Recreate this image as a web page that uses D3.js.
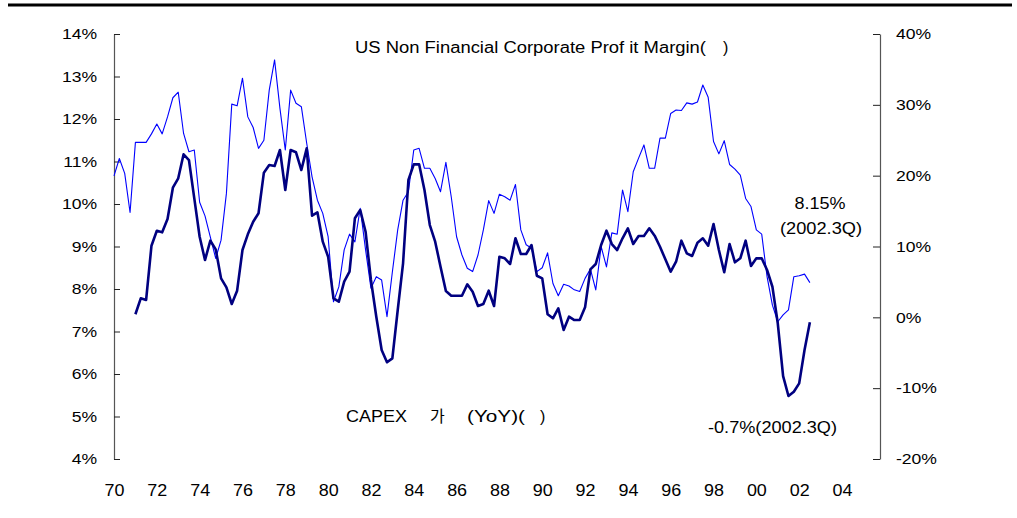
<!DOCTYPE html>
<html>
<head>
<meta charset="utf-8">
<script src="https://cdnjs.cloudflare.com/ajax/libs/d3/7.8.5/d3.min.js"></script>
<style>
  body { margin: 0; background: #fff; }
  text { font-family: "Liberation Sans", Arial, sans-serif; fill: #000; }
  .kr { font-family: "Noto Sans CJK KR", sans-serif; }
</style>
</head>
<body>
<div id="chart"></div>
<script>
// quarterly series
var pmStart = 1970;     // profit margin starts 1970 Q1
var capexStart = 1971;  // capex YoY starts 1971 Q1

// US non financial corporate profit margin (%), left axis
var pmValues = [
  10.66, 11.07, 10.72, 9.80,   // 1970
  11.45, 11.45, 11.45, 11.65,  // 1971
  11.88, 11.65, 12.05, 12.50,  // 1972
  12.63, 11.66, 11.23, 11.27,  // 1973
  10.04, 9.72, 9.22, 8.72,     // 1974
  9.15, 10.25, 12.35, 12.31,   // 1975
  12.96, 12.05, 11.80, 11.31,  // 1976
  11.50, 12.68, 13.39, 12.25,  // 1977
  11.27, 12.68, 12.37, 12.29,  // 1978
  11.43, 10.64, 10.09, 9.78,   // 1979
  9.23, 7.70, 8.05, 8.92,      // 1980
  9.29, 9.11, 9.90, 8.92,      // 1981
  8.02, 8.29, 8.21, 7.35,      // 1982
  8.40, 9.39, 10.09, 10.29,    // 1983
  11.27, 11.31, 10.84, 10.84,  // 1984
  10.60, 10.29, 10.98, 10.17,  // 1985
  9.23, 8.80, 8.49, 8.41,      // 1986
  8.80, 9.39, 10.08, 9.78,     // 1987
  10.23, 10.17, 10.09, 10.46,  // 1988
  9.39, 9.04, 8.96, 8.41,      // 1989
  8.50, 8.85, 8.13, 7.84,      // 1990
  8.11, 8.07, 7.98, 7.94,      // 1991
  8.25, 8.47, 7.98, 9.00,      // 1992
  8.52, 9.32, 9.29, 10.33,     // 1993
  9.82, 10.76, 11.08, 11.39,   // 1994
  10.84, 10.84, 11.55, 11.55,  // 1995
  12.13, 12.21, 12.20, 12.38,  // 1996
  12.35, 12.40, 12.80, 12.51,  // 1997
  11.47, 11.18, 11.49, 10.93,  // 1998
  10.82, 10.68, 10.13, 9.94,   // 1999
  9.39, 9.29, 8.29, 7.62,      // 2000
  7.23, 7.39, 7.51, 8.29,      // 2001
  8.31, 8.35, 8.15             // 2002
];

// CAPEX YoY (%), right axis
var capexValues = [
  0.43, 2.68, 2.45, 10.11,     // 1971
  12.23, 12.00, 13.88, 18.30,  // 1972
  19.63, 23.02, 22.21, 16.80,  // 1973
  11.38, 8.09, 10.82, 9.60,    // 1974
  5.50, 4.24, 1.88, 3.76,      // 1975
  9.50, 11.72, 13.50, 14.69,   // 1976
  20.42, 21.50, 21.36, 23.62,  // 1977
  17.98, 23.62, 23.30, 20.80,  // 1978
  23.86, 14.35, 14.82, 10.68,  // 1979
  8.56, 2.69, 2.21, 5.03,      // 1980
  6.44, 13.98, 15.15, 12.09,   // 1981
  5.27, 0.09, -4.61, -6.35,    // 1982
  -5.79, 1.00, 7.63, 19.39,    // 1983
  21.60, 21.60, 17.98, 13.03,  // 1984
  10.68, 7.15, 3.72, 3.05,     // 1985
  3.05, 3.05, 4.66, 3.62,      // 1986
  1.60, 1.88, 3.76, 1.60,      // 1987
  8.56, 8.33, 7.53, 11.16,     // 1988
  8.94, 8.94, 10.21, 5.87,     // 1989
  5.50, 0.43, -0.14, 1.27,     // 1990
  -1.79, 0.09, -0.38, -0.38,   // 1991
  1.41, 6.78, 7.53, 10.21,     // 1992
  12.23, 10.35, 9.50, 11.16,   // 1993
  12.57, 10.35, 11.48, 11.48,  // 1994
  12.57, 11.53, 9.97, 8.19,    // 1995
  6.44, 7.85, 10.82, 9.04,     // 1996
  8.66, 10.54, 11.16, 10.12,   // 1997
  13.17, 9.50, 6.36, 10.35,    // 1998
  7.77, 8.33, 10.82, 7.25,     // 1999
  8.33, 8.33, 6.68, 4.32,      // 2000
  -0.84, -8.29, -11.11, -10.50,// 2001
  -9.32, -4.61, -0.70          // 2002
];

var xTicks = d3.range(1970, 2005, 2);
var leftTicks = [4, 5, 6, 7, 8, 9, 10, 11, 12, 13, 14];
var rightTicks = [-20, -10, 0, 10, 20, 30, 40];

var width = 1017, height = 518;
var svg = d3.select("#chart").append("svg")
    .attr("width", width)
    .attr("height", height);

// the reference text is drawn a little wide, stretch it horizontally
function stretch(sel, k) {
  sel.each(function() {
    var w = this.getComputedTextLength();
    d3.select(this)
      .attr("textLength", w * k)
      .attr("lengthAdjust", "spacingAndGlyphs");
  });
}

// thick rule across the top
svg.append("line")
    .attr("x1", 8).attr("x2", 1012)
    .attr("y1", 5).attr("y2", 5)
    .attr("stroke", "#000")
    .attr("stroke-width", 3);

var x = d3.scaleLinear().domain([1970, 2004]).range([114, 842]);
var yL = d3.scaleLinear().domain([4, 14]).range([459, 34]);
var yR = d3.scaleLinear().domain([-20, 40]).range([459, 34]);

// left axis, ticks point inwards
var gL = svg.append("g")
    .attr("transform", "translate(114,0)")
    .call(d3.axisLeft(yL).tickValues(leftTicks).tickSize(-6).tickSizeOuter(0).tickPadding(17)
      .tickFormat(function(d) { return d + "%"; }));

// right axis
var gR = svg.append("g")
    .attr("transform", "translate(880,0)")
    .call(d3.axisRight(yR).tickValues(rightTicks).tickSize(-7).tickSizeOuter(0).tickPadding(16)
      .tickFormat(function(d) { return d + "%"; }));

[gL, gR].forEach(function(g) {
  g.select(".domain").attr("stroke", "#555").attr("stroke-width", 1.2);
  g.selectAll(".tick line").attr("stroke", "#222");
  g.selectAll("text")
    .attr("font-size", 15)
    .attr("font-family", "Liberation Sans, Arial, sans-serif")
    .attr("fill", "#000")
    .call(stretch, 1.17);
});

// x labels only, no axis line
var gX = svg.append("g")
    .attr("transform", "translate(0,481)")
    .call(d3.axisBottom(x).tickValues(xTicks).tickSize(0).tickPadding(4)
      .tickFormat(function(d) { return d3.format("02")(d % 100); }));
gX.select(".domain").remove();
gX.selectAll("text")
    .attr("font-size", 16)
    .attr("font-family", "Liberation Sans, Arial, sans-serif")
    .attr("fill", "#000")
    .call(stretch, 1.12);

var pmLine = d3.line()
    .x(function(d, i) { return x(pmStart + i / 4); })
    .y(function(d) { return yL(d); });

var capexLine = d3.line()
    .x(function(d, i) { return x(capexStart + i / 4); })
    .y(function(d) { return yR(d); });

svg.append("path")
    .datum(pmValues)
    .attr("d", pmLine)
    .attr("fill", "none")
    .attr("stroke", "#0000ff")
    .attr("stroke-width", 1.1)
    .attr("stroke-linejoin", "round");

svg.append("path")
    .datum(capexValues)
    .attr("d", capexLine)
    .attr("fill", "none")
    .attr("stroke", "#000080")
    .attr("stroke-width", 2.6)
    .attr("stroke-linejoin", "round");

// labels, lengths matched to the reference
function label(txt, px, py, len, anchor, cls) {
  var t = svg.append("text")
    .attr("x", px).attr("y", py)
    .attr("font-size", 16)
    .attr("text-anchor", anchor || "start")
    .attr("class", cls || null)
    .text(txt);
  if (len) t.attr("textLength", len).attr("lengthAdjust", "spacingAndGlyphs");
  return t;
}

label("US Non Financial Corporate Prof it Margin(", 355, 53, 351);
label(")", 723, 53);
label("8.15%", 820, 209, 51, "middle");
label("(2002.3Q)", 821, 234, 82, "middle");
label("CAPEX", 346, 422, 61);
label("가", 430, 422, null, "start", "kr");
label("(YoY)(", 467, 422, 58);
label(")", 540, 422);
label("-0.7%(2002.3Q)", 708, 433, 129);
</script>
</body>
</html>
